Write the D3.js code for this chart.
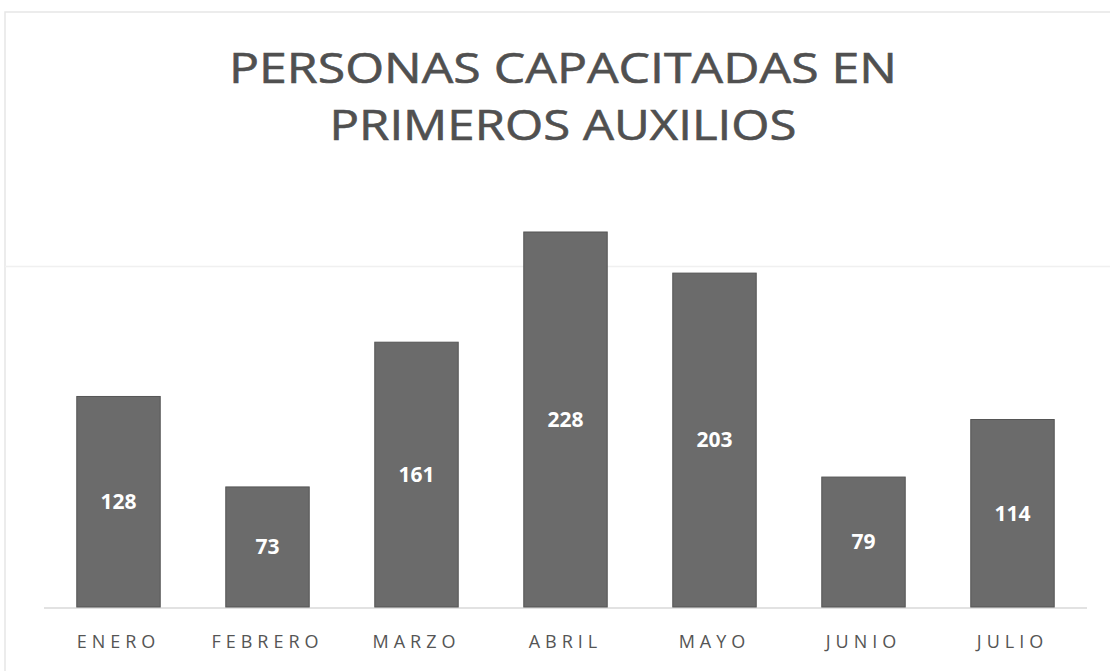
<!DOCTYPE html>
<html>
<head>
<meta charset="utf-8">
<script src="https://cdn.jsdelivr.net/npm/d3@7"></script>
<style>
  body { margin: 0; background: #fff; }
  svg { display: block; }
</style>
</head>
<body>
<script>
// datos del gráfico
const months = ["ENERO", "FEBRERO", "MARZO", "ABRIL", "MAYO", "JUNIO", "JULIO"];
const people = [128, 73, 161, 228, 203, 79, 114];
const titleLines = ["PERSONAS CAPACITADAS EN", "PRIMEROS AUXILIOS"];
const gridValues = [207];

const width = 1110, height = 671;
const baseY = 607;

const svg = d3.select("body").append("svg")
    .attr("width", width)
    .attr("height", height);

// marco tenue del gráfico escaneado
svg.append("rect")
    .attr("x", 5).attr("y", 12)
    .attr("width", width + 10).attr("height", height)
    .attr("fill", "none")
    .attr("stroke", "#e6e6e6")
    .attr("stroke-width", 1.5);

const x = d3.scaleBand()
    .domain(months)
    .range([44, 1087])
    .paddingInner(0.44)
    .paddingOuter(0.22);

const y = d3.scaleLinear()
    .domain([0, 228])
    .range([baseY, 232]);

// línea de cuadrícula tenue
svg.selectAll("line.grid")
    .data(gridValues)
    .enter().append("line")
    .attr("class", "grid")
    .attr("x1", 5).attr("x2", width)
    .attr("y1", d => y(d)).attr("y2", d => y(d))
    .attr("stroke", "#f0f0f0")
    .attr("stroke-width", 1.5);

// título
svg.selectAll("text.title")
    .data(titleLines)
    .enter().append("text")
    .attr("class", "title")
    .attr("x", 563)
    .attr("y", (d, i) => 83 + i * 57)
    .attr("text-anchor", "middle")
    .attr("font-family", "'Open Sans', sans-serif")
    .attr("font-size", 42)
    .attr("fill", "#505050")
    .attr("stroke", "#505050")
    .attr("stroke-width", 0.6)
    .attr("textLength", (d, i) => i === 0 ? 668 : 467)
    .attr("lengthAdjust", "spacingAndGlyphs")
    .text(d => d);

// eje x
svg.append("line")
    .attr("x1", 44).attr("x2", 1087)
    .attr("y1", baseY + 1).attr("y2", baseY + 1)
    .attr("stroke", "#d9d9d9")
    .attr("stroke-width", 1.5);

// barras
svg.selectAll("rect.bar")
    .data(people)
    .enter().append("rect")
    .attr("class", "bar")
    .attr("x", (d, i) => x(months[i]))
    .attr("y", d => y(d))
    .attr("width", x.bandwidth())
    .attr("height", d => baseY - y(d))
    .attr("fill", "#6b6b6b")
    .attr("stroke", "#555")
    .attr("stroke-width", 1);

// etiquetas de valor
svg.selectAll("text.value")
    .data(people)
    .enter().append("text")
    .attr("class", "value")
    .attr("x", (d, i) => x(months[i]) + x.bandwidth() / 2)
    .attr("y", d => (y(d) + baseY) / 2)
    .attr("dy", "0.35em")
    .attr("text-anchor", "middle")
    .attr("font-family", "'Open Sans', sans-serif")
    .attr("font-weight", "bold")
    .attr("font-size", 21)
    .attr("fill", "#fff")
    .text(d => d);

// etiquetas de categoría
svg.selectAll("text.cat")
    .data(months)
    .enter().append("text")
    .attr("class", "cat")
    .attr("x", d => x(d) + x.bandwidth() / 2)
    .attr("y", 648)
    .attr("text-anchor", "middle")
    .attr("font-family", "'Open Sans', sans-serif")
    .attr("font-size", 18)
    .attr("letter-spacing", 5)
    .attr("fill", "#555")
    .text(d => d);
</script>
</body>
</html>
